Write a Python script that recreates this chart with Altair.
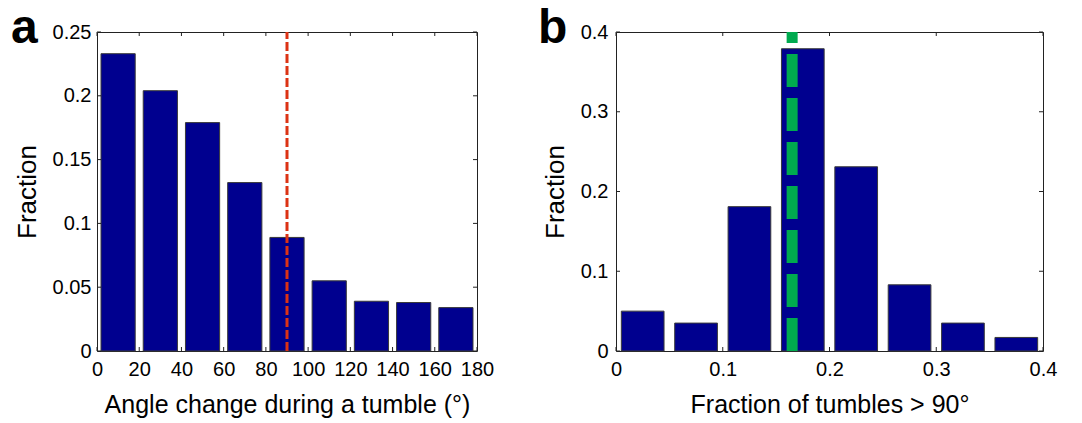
import altair as alt
import pandas as pd

# ---- data ----
a_centers = [10, 30, 50, 70, 90, 110, 130, 150, 170]
a_values = [0.233, 0.204, 0.179, 0.132, 0.089, 0.055, 0.039, 0.038, 0.034]
a_xticks = [0, 20, 40, 60, 80, 100, 120, 140, 160, 180]
a_yticks = [0, 0.05, 0.1, 0.15, 0.2, 0.25]
a_line = [90]

b_centers = [0.025, 0.075, 0.125, 0.175, 0.225, 0.275, 0.325, 0.375]
b_values = [0.050, 0.035, 0.181, 0.379, 0.231, 0.083, 0.035, 0.017]
b_xticks = [0, 0.1, 0.2, 0.3, 0.4]
b_yticks = [0, 0.1, 0.2, 0.3, 0.4]
b_line = [0.165]

FONT = "Liberation Sans"
BAR = "#00008F"
EDGE = "#3a3a3a"
FRAME = "#222222"


def panel(centers, values, half, xdom, ydom, xticks, yticks, xfmt, yfmt,
          xtitle, line_x, line_color, line_w, dash, letter, letter_dx,
          W, H, ylabpad):
    df = pd.DataFrame({"c": centers, "v": values})
    df["x0"] = df["c"] - half
    df["x1"] = df["c"] + half
    xs = alt.Scale(domain=xdom, nice=False, zero=False)
    ys = alt.Scale(domain=ydom, nice=False)
    xaxis = alt.Axis(values=xticks, format=xfmt, title=xtitle, ticks=False,
                     labelFlush=False, labelPadding=8, labelFontSize=20,
                     titleFontSize=25, titlePadding=13, grid=False,
                     domain=False)
    yaxis = alt.Axis(values=yticks, format=yfmt, title="Fraction", ticks=False,
                     labelFlush=False, labelPadding=ylabpad, labelFontSize=20,
                     titleFontSize=26, titlePadding=12, grid=False,
                     domain=False)
    bars = alt.Chart(df).mark_bar(color=BAR, stroke=EDGE, strokeWidth=1).encode(
        x=alt.X("x0:Q", scale=xs, axis=xaxis),
        x2="x1:Q",
        y=alt.Y("v:Q", scale=ys, axis=yaxis),
        y2=alt.datum(0),
    )
    ldf = pd.DataFrame({"x": line_x, "y0": [0] * len(line_x),
                        "y1": [ydom[1]] * len(line_x)})
    line = alt.Chart(ldf).mark_rule(color=line_color, strokeWidth=line_w,
                                    strokeDash=dash).encode(
        x=alt.X("x:Q", scale=xs, axis=xaxis),
        y=alt.Y("y0:Q", scale=ys, axis=yaxis),
        y2="y1:Q",
    )
    xt = pd.DataFrame({"t": xticks})
    yt = pd.DataFrame({"t": yticks})
    tb = alt.Chart(xt).mark_rule(color=FRAME, strokeWidth=1).encode(
        x=alt.X("t:Q", scale=xs, axis=xaxis), y=alt.value(H), y2=alt.value(H - 4))
    tt = alt.Chart(xt).mark_rule(color=FRAME, strokeWidth=1).encode(
        x=alt.X("t:Q", scale=xs, axis=xaxis), y=alt.value(0), y2=alt.value(4))
    tl = alt.Chart(yt).mark_rule(color=FRAME, strokeWidth=1).encode(
        y=alt.Y("t:Q", scale=ys, axis=yaxis), x=alt.value(0), x2=alt.value(4))
    tr = alt.Chart(yt).mark_rule(color=FRAME, strokeWidth=1).encode(
        y=alt.Y("t:Q", scale=ys, axis=yaxis), x=alt.value(W), x2=alt.value(W - 4))
    lab = alt.Chart(pd.DataFrame({"s": [letter]})).mark_text(
        fontSize=48, fontWeight="bold", align="left", baseline="alphabetic",
        color="black", font=FONT).encode(
        text="s:N", x=alt.value(letter_dx), y=alt.value(11))
    return alt.layer(bars, line, tb, tt, tl, tr, lab).properties(width=W, height=H)


pa = panel(a_centers, a_values, 8.1, [0, 180], [0, 0.25], a_xticks, a_yticks,
           "d", ".2~f", "Angle change during a tumble (°)", a_line,
           "#DC3214", 3, [9, 3], "a", -86, 380, 319, 6)
pb = panel(b_centers, b_values, 0.02, [0, 0.4], [0, 0.4], b_xticks, b_yticks,
           ".1~f", ".1~f", "Fraction of tumbles > 90°", b_line,
           "#00AA4F", 11, [33, 11], "b", -78, 427, 319, 8)

chart = alt.hconcat(pa, pb, spacing=42).properties(
    padding={"left": 2, "top": -4, "right": 5, "bottom": 5}
).configure_view(stroke=FRAME, strokeWidth=1).configure_axis(
    labelFont=FONT, titleFont=FONT, labelColor="black", titleColor="black",
    titleFontWeight="normal"
).configure_text(font=FONT)

chart.save("out.html", embed_options={"renderer": "svg", "actions": False})
